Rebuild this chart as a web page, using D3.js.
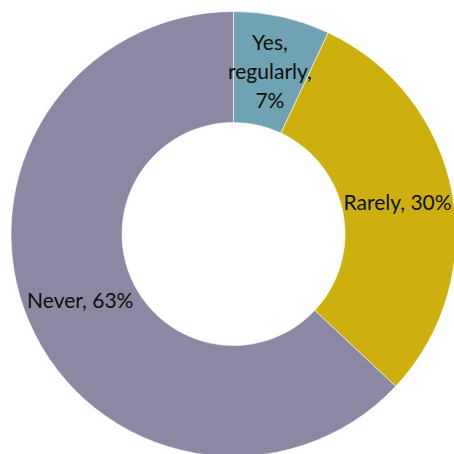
<!DOCTYPE html>
<html>
<head>
<meta charset="utf-8">
<script src="https://cdn.jsdelivr.net/npm/d3@7"></script>
<style>
  html, body { margin: 0; padding: 0; background: #fff; }
  svg { display: block; }
</style>
</head>
<body>
<svg id="chart" width="454" height="454"></svg>
<script>
// Survey answers and their shares (percent)
const categories = ["Yes, regularly", "Rarely", "Never"];
const shares = [7, 30, 63];
const labelLines = [["Yes,", "regularly,", "7%"], ["Rarely, 30%"], ["Never, 63%"]];
const colors = ["#6fa3b3", "#cdaf0d", "#8c87a3"];

const width = 454, height = 454;
const cx = 233.5, cy = 234;
const outerR = 222.5, innerR = 111.5;

const svg = d3.select("#chart");
const g = svg.append("g").attr("transform", `translate(${cx},${cy})`);

const data = categories.map((c, i) => ({ name: c, value: shares[i], lines: labelLines[i], color: colors[i] }));

const pie = d3.pie().value(d => d.value).sort(null);
const arc = d3.arc().innerRadius(innerR).outerRadius(outerR);
const labelArc = d3.arc().innerRadius((innerR + outerR) / 2).outerRadius((innerR + outerR) / 2);

const arcs = pie(data);

g.selectAll("path.slice")
  .data(arcs)
  .join("path")
  .attr("class", "slice")
  .attr("d", arc)
  .attr("fill", d => d.data.color)
  .attr("stroke", "#ffffff")
  .attr("stroke-width", 0.6);

const lineH = 29;
const labels = g.selectAll("text.label")
  .data(arcs)
  .join("text")
  .attr("class", "label")
  .attr("transform", d => `translate(${labelArc.centroid(d)})`)
  .attr("text-anchor", "middle")
  .attr("font-family", "Lato, 'Open Sans', sans-serif")
  .attr("font-size", 21)
  .attr("fill", "#0d0d0d");

labels.each(function (d) {
  const n = d.data.lines.length;
  const t = d3.select(this);
  d.data.lines.forEach((line, i) => {
    t.append("tspan")
      .attr("x", 0)
      .attr("y", (i - (n - 1) / 2) * lineH)
      .attr("dy", "0.36em")
      .text(line);
  });
});
</script>
</body>
</html>
